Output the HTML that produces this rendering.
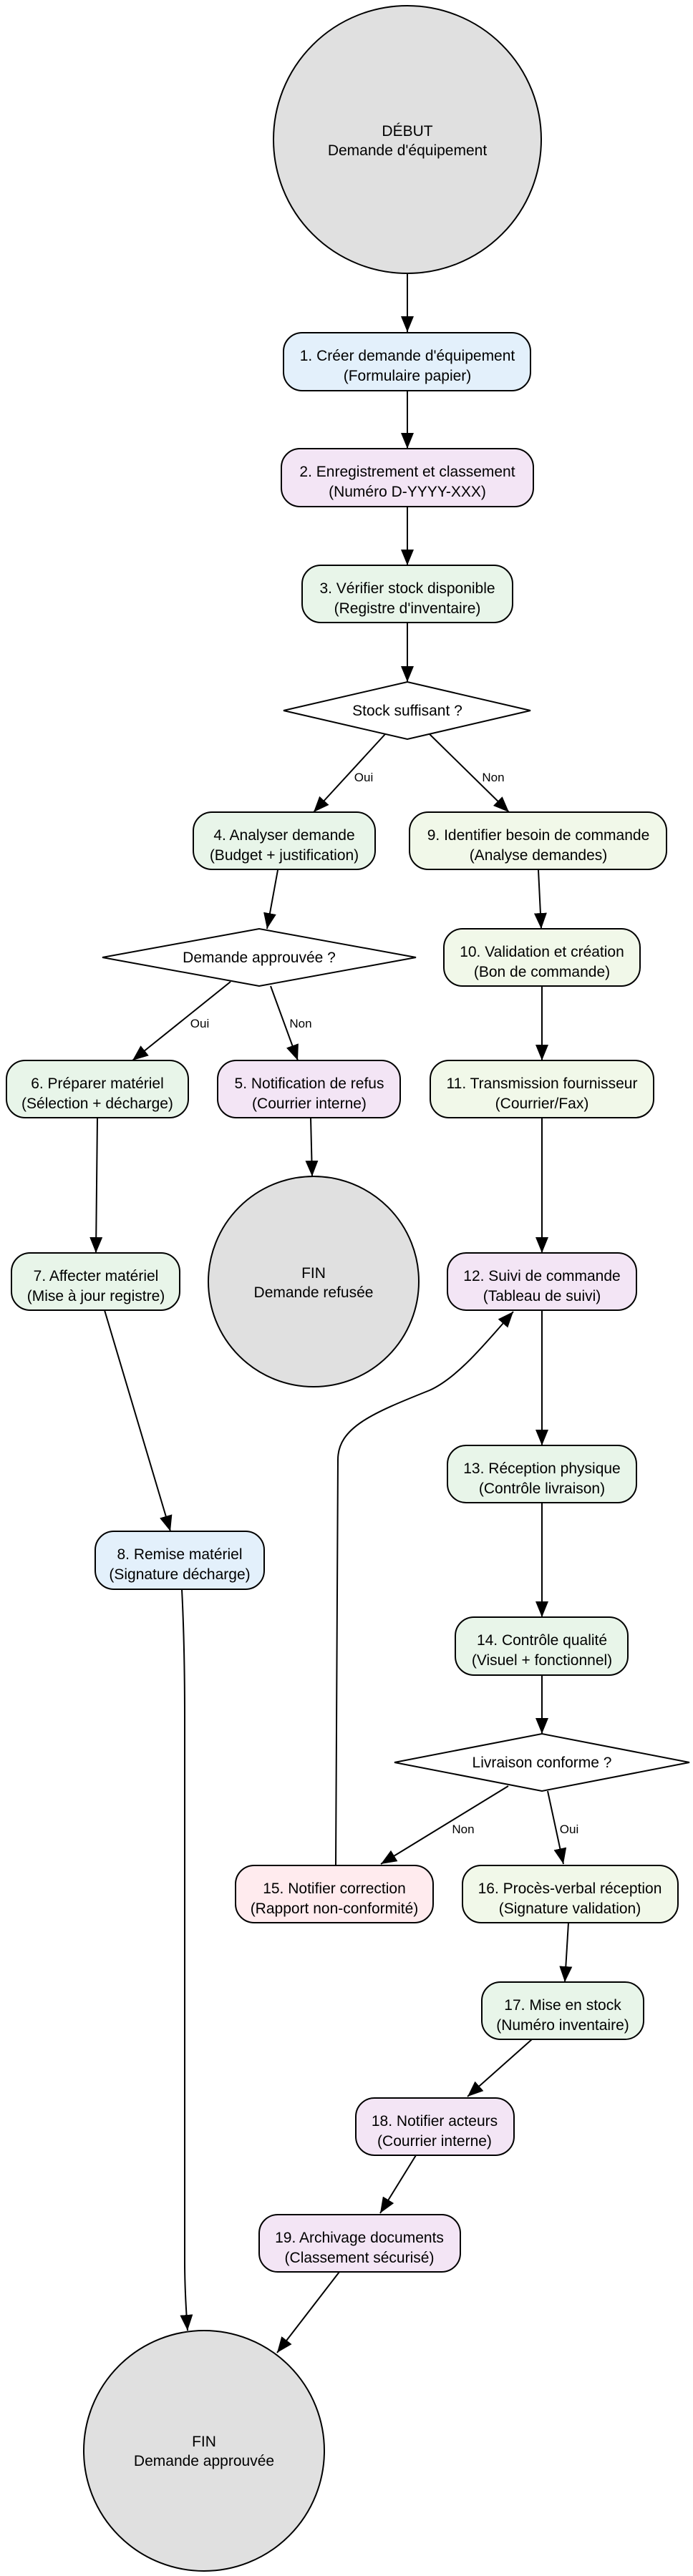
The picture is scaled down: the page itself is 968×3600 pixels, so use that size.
<!DOCTYPE html>
<html><head><meta charset="utf-8"><style>
html,body{margin:0;padding:0;background:#fff;}
svg{display:block;}
text{font-family:"Liberation Sans",Arial,sans-serif;fill:#000;}
.n{font-size:21px;text-anchor:middle;}
.l{font-size:17px;text-anchor:middle;}
.e{fill:none;stroke:#000;stroke-width:2;}
.b{stroke:#000;stroke-width:2;}
</style></head><body>
<svg width="968" height="3600" viewBox="0 0 968 3600" xmlns="http://www.w3.org/2000/svg">
<defs><marker id="a" markerWidth="10" markerHeight="8" refX="10" refY="4" orient="auto" markerUnits="userSpaceOnUse" viewBox="0 0 10 8" preserveAspectRatio="none"><path d="M0,0 L10,4 L0,8 Z" fill="#000"/></marker>
<marker id="m" markerWidth="22" markerHeight="18" refX="22" refY="9" orient="auto" markerUnits="userSpaceOnUse"><path d="M0,0 L22,9 L0,18 Z" fill="#000"/></marker></defs>

<!-- edges -->
<g class="e">
<path d="M569 383 L569 464" marker-end="url(#m)"/>
<path d="M569 546 L569 627" marker-end="url(#m)"/>
<path d="M569 708 L569 790" marker-end="url(#m)"/>
<path d="M569 870 L569 953" marker-end="url(#m)"/>
<path d="M538 1026 L438 1135" marker-end="url(#m)"/>
<path d="M600 1026 L711 1135" marker-end="url(#m)"/>
<path d="M388 1216 L373 1298" marker-end="url(#m)"/>
<path d="M752 1216 L756 1298" marker-end="url(#m)"/>
<path d="M322 1372 L185 1482" marker-end="url(#m)"/>
<path d="M378 1378 L416 1482" marker-end="url(#m)"/>
<path d="M757 1378 L757 1482" marker-end="url(#m)"/>
<path d="M434 1562 L436 1644" marker-end="url(#m)"/>
<path d="M136 1562 L134 1751" marker-end="url(#m)"/>
<path d="M757 1562 L757 1751" marker-end="url(#m)"/>
<path d="M146 1831 L238 2140" marker-end="url(#m)"/>
<path d="M757 1831 L757 2020" marker-end="url(#m)"/>
<path d="M757 2100 L757 2260" marker-end="url(#m)"/>
<path d="M757 2341 L757 2423" marker-end="url(#m)"/>
<path d="M469 2607 L472 2040 C472 1995 520 1975 600 1943 C640 1925 680 1875 717 1833" marker-end="url(#m)"/>
<path d="M710 2496 L532 2605" marker-end="url(#m)"/>
<path d="M765 2503 L787 2605" marker-end="url(#m)"/>
<path d="M794 2687 L789 2770" marker-end="url(#m)"/>
<path d="M743 2850 L653 2930" marker-end="url(#m)"/>
<path d="M581 3012 L531 3093" marker-end="url(#m)"/>
<path d="M474 3175 L387 3288" marker-end="url(#m)"/>
<path d="M254 2221 C257 2280 258 2330 258 2400 L258 3160 C258 3200 260 3230 262 3257" marker-end="url(#m)"/>
</g>

<!-- ellipses -->
<ellipse class="b" cx="569" cy="195" rx="187" ry="187" fill="#e0e0e0"/>
<text class="n" x="569" y="190">DÉBUT</text><text class="n" x="569" y="217">Demande d'équipement</text>
<ellipse class="b" cx="438" cy="1791" rx="147" ry="147" fill="#e0e0e0"/>
<text class="n" x="438" y="1786">FIN</text><text class="n" x="438" y="1813">Demande refusée</text>
<ellipse class="b" cx="285" cy="3425" rx="168" ry="168" fill="#e0e0e0"/>
<text class="n" x="285" y="3419">FIN</text><text class="n" x="285" y="3446">Demande approuvée</text>

<!-- diamonds -->
<polygon class="b" fill="#fff" points="396,993 569,953 741,993 569,1033"/>
<text class="n" x="569" y="1000">Stock suffisant ?</text>
<polygon class="b" fill="#fff" points="143,1338 362,1298 581,1338 362,1378"/>
<text class="n" x="362" y="1345">Demande approuvée ?</text>
<polygon class="b" fill="#fff" points="551,2463 757,2423 963,2463 757,2503"/>
<text class="n" x="757" y="2470">Livraison conforme ?</text>

<!-- labels -->
<text class="l" x="508" y="1092">Oui</text><text class="l" x="689" y="1092">Non</text>
<text class="l" x="279" y="1436">Oui</text><text class="l" x="420" y="1436">Non</text>
<text class="l" x="647" y="2562">Non</text><text class="l" x="795" y="2562">Oui</text>

<!-- boxes -->
<g>
<rect class="b" x="396" y="465" width="345" height="81" rx="26" fill="#e3f0fb"/>
<text class="n" x="569" y="504">1. Créer demande d'équipement</text><text class="n" x="569" y="532">(Formulaire papier)</text>
<rect class="b" x="393" y="627" width="352" height="81" rx="26" fill="#f3e5f5"/>
<text class="n" x="569" y="666">2. Enregistrement et classement</text><text class="n" x="569" y="694">(Numéro D-YYYY-XXX)</text>
<rect class="b" x="422" y="790" width="294" height="80" rx="26" fill="#e8f5e9"/>
<text class="n" x="569" y="829">3. Vérifier stock disponible</text><text class="n" x="569" y="857">(Registre d'inventaire)</text>
<rect class="b" x="270" y="1135" width="254" height="80" rx="26" fill="#e8f5e9"/>
<text class="n" x="397" y="1174">4. Analyser demande</text><text class="n" x="397" y="1202">(Budget + justification)</text>
<rect class="b" x="572" y="1135" width="359" height="80" rx="26" fill="#f1f8e9"/>
<text class="n" x="752" y="1174">9. Identifier besoin de commande</text><text class="n" x="752" y="1202">(Analyse demandes)</text>
<rect class="b" x="620" y="1298" width="274" height="80" rx="26" fill="#f1f8e9"/>
<text class="n" x="757" y="1337">10. Validation et création</text><text class="n" x="757" y="1365">(Bon de commande)</text>
<rect class="b" x="9" y="1482" width="254" height="80" rx="26" fill="#e8f5e9"/>
<text class="n" x="136" y="1521">6. Préparer matériel</text><text class="n" x="136" y="1549">(Sélection + décharge)</text>
<rect class="b" x="304" y="1482" width="255" height="80" rx="26" fill="#f3e5f5"/>
<text class="n" x="432" y="1521">5. Notification de refus</text><text class="n" x="432" y="1549">(Courrier interne)</text>
<rect class="b" x="601" y="1482" width="312" height="80" rx="26" fill="#f1f8e9"/>
<text class="n" x="757" y="1521">11. Transmission fournisseur</text><text class="n" x="757" y="1549">(Courrier/Fax)</text>
<rect class="b" x="16" y="1751" width="235" height="80" rx="26" fill="#e8f5e9"/>
<text class="n" x="134" y="1790">7. Affecter matériel</text><text class="n" x="134" y="1818">(Mise à jour registre)</text>
<rect class="b" x="625" y="1751" width="264" height="80" rx="26" fill="#f3e5f5"/>
<text class="n" x="757" y="1790">12. Suivi de commande</text><text class="n" x="757" y="1818">(Tableau de suivi)</text>
<rect class="b" x="625" y="2020" width="264" height="80" rx="26" fill="#e8f5e9"/>
<text class="n" x="757" y="2059">13. Réception physique</text><text class="n" x="757" y="2087">(Contrôle livraison)</text>
<rect class="b" x="133" y="2140" width="236" height="81" rx="26" fill="#e3f0fb"/>
<text class="n" x="251" y="2179">8. Remise matériel</text><text class="n" x="251" y="2207">(Signature décharge)</text>
<rect class="b" x="636" y="2260" width="241" height="81" rx="26" fill="#e8f5e9"/>
<text class="n" x="757" y="2299">14. Contrôle qualité</text><text class="n" x="757" y="2327">(Visuel + fonctionnel)</text>
<rect class="b" x="329" y="2607" width="276" height="80" rx="26" fill="#ffebee"/>
<text class="n" x="467" y="2646">15. Notifier correction</text><text class="n" x="467" y="2674">(Rapport non-conformité)</text>
<rect class="b" x="646" y="2607" width="301" height="80" rx="26" fill="#f1f8e9"/>
<text class="n" x="796" y="2646">16. Procès-verbal réception</text><text class="n" x="796" y="2674">(Signature validation)</text>
<rect class="b" x="673" y="2770" width="226" height="80" rx="26" fill="#e8f5e9"/>
<text class="n" x="786" y="2809">17. Mise en stock</text><text class="n" x="786" y="2837">(Numéro inventaire)</text>
<rect class="b" x="497" y="2932" width="221" height="80" rx="26" fill="#f3e5f5"/>
<text class="n" x="607" y="2971">18. Notifier acteurs</text><text class="n" x="607" y="2999">(Courrier interne)</text>
<rect class="b" x="362" y="3095" width="281" height="80" rx="26" fill="#f3e5f5"/>
<text class="n" x="502" y="3134">19. Archivage documents</text><text class="n" x="502" y="3162">(Classement sécurisé)</text>
</g>
</svg>
</body></html>
